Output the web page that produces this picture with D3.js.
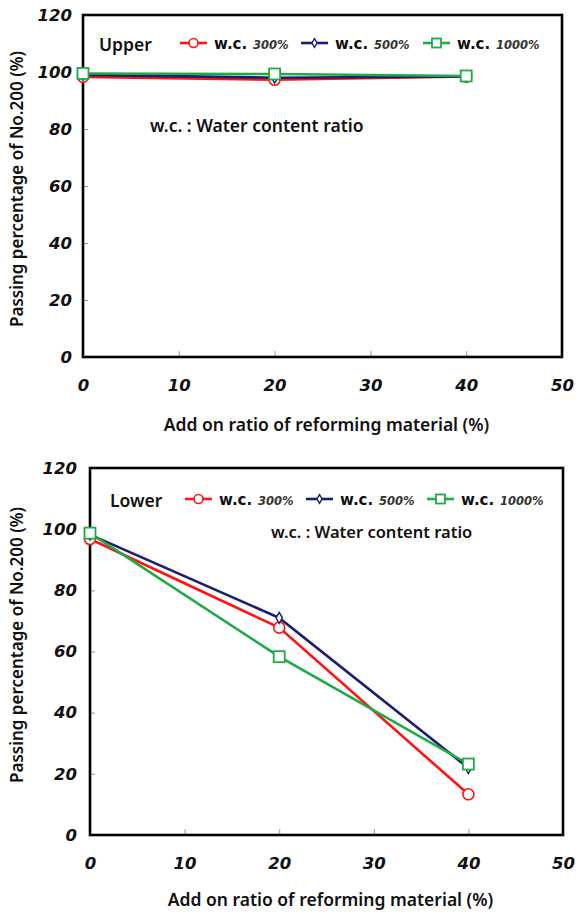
<!DOCTYPE html>
<html>
<head>
<meta charset="utf-8">
<script src="https://cdn.jsdelivr.net/npm/d3@7"></script>
<style>
  body { margin: 0; background: #fff; }
  svg text { font-family: "Noto Sans", sans-serif; fill: #111; }
  .tick text { font-family: "DejaVu Sans"; font-weight: bold; font-style: italic; font-size: 16.5px; fill: #111; }
  .tick line { stroke: #999; stroke-width: 1; }
  .axis .domain { display: none; }
  .title { font-weight: 600; font-size: 17.5px; }
  .ytitle { font-weight: 600; font-size: 17px; }
  .wc { font-family: "DejaVu Sans" !important; font-weight: bold; font-size: 15px; }
  .pct { font-family: "DejaVu Sans" !important; font-weight: bold; font-style: italic; font-size: 11.5px; fill: #333 !important; }
</style>
</head>
<body>
<div id="chart-area"></div>
<script>
// DATA

const addRatio = [0, 20, 40];
const xTicks = [0, 10, 20, 30, 40, 50];
const yTicks = [0, 20, 40, 60, 80, 100, 120];
const wcLabels = ["300%", "500%", "1000%"];
const colors = ["#ff1414", "#1b1f6b", "#1faa48"];

// Upper layer
const upper300 = [98.3, 97.3, 98.4];
const upper500 = [99.0, 98.0, 98.4];
const upper1000 = [99.5, 99.3, 98.6];

// Lower layer
const lower300 = [96.8, 67.8, 13.3];
const lower500 = [98.2, 71.0, 21.9];
const lower1000 = [98.7, 58.3, 23.2];

let svg = d3
  .select("#chart-area")
  .append("svg")
  .attr("width", 576)
  .attr("height", 913);

function marker(sel, i, size, color) {
  if (i === 0) {
    sel.append("circle").attr("r", size / 2)
      .attr("fill", "#fff").attr("stroke", color).attr("stroke-width", 1.6);
  } else if (i === 1) {
    sel.append("path").attr("d", d3.symbol(d3.symbolDiamond, size * 3.2)())
      .attr("fill", "#fff").attr("stroke", color).attr("stroke-width", 1.4);
  } else {
    sel.append("rect")
      .attr("x", -size / 2).attr("y", -size / 2)
      .attr("width", size).attr("height", size)
      .attr("fill", "#fff").attr("stroke", color).attr("stroke-width", 1.8);
  }
}

function drawPanel(p) {
  let x = d3.scaleLinear().domain([0, 50]).range([p.left, p.right]);
  let y = d3.scaleLinear().domain([0, 120]).range([p.bottom, p.top]);

  let g = svg.append("g");

  // AXES (ticks point inward)
  g.append("g")
    .attr("class", "axis")
    .attr("transform", "translate(0," + p.bottom + ")")
    .call(d3.axisBottom(x).tickValues(xTicks).tickSize(-6).tickPadding(p.xPad));

  g.append("g")
    .attr("class", "axis")
    .attr("transform", "translate(" + p.left + ",0)")
    .call(d3.axisLeft(y).tickValues(yTicks).tickSize(-5).tickPadding(p.yPad));

  // frame
  g.append("rect")
    .attr("x", p.left).attr("y", p.top)
    .attr("width", p.right - p.left).attr("height", p.bottom - p.top)
    .attr("fill", "none").attr("stroke", "#000").attr("stroke-width", 2.6);

  // axis titles
  g.append("text")
    .attr("class", "title")
    .attr("x", (p.left + p.right) / 2 + 4)
    .attr("y", p.xTitleY)
    .style("text-anchor", "middle")
    .text("Add on ratio of reforming material (%)");

  g.append("text")
    .attr("class", "ytitle")
    .attr("transform", "translate(23," + p.yTitleY + ") rotate(-90)")
    .style("text-anchor", "middle")
    .text("Passing percentage of No.200 (%)");

  // LINES
  let line = d3.line()
    .x(function(d, i) { return x(addRatio[i]); })
    .y(function(d) { return y(d); });

  p.series.forEach(function(vals, s) {
    g.append("path")
      .attr("d", line(vals))
      .attr("fill", "none")
      .attr("stroke", colors[s])
      .attr("stroke-width", 2.6);
  });
  p.series.forEach(function(vals, s) {
    vals.forEach(function(v, i) {
      let m = g.append("g").attr("transform", "translate(" + x(addRatio[i]) + "," + y(v) + ")");
      marker(m, s, 11, colors[s]);
    });
  });

  // LEGEND
  g.append("text")
    .attr("class", "title")
    .attr("x", p.nameX).attr("y", p.legY + 8)
    .text(p.name);

  p.legX.forEach(function(lx, s) {
    g.append("line")
      .attr("x1", lx).attr("x2", lx + 27)
      .attr("y1", p.legY).attr("y2", p.legY)
      .attr("stroke", colors[s]).attr("stroke-width", 2.6);
    let m = g.append("g").attr("transform", "translate(" + (lx + 13.5) + "," + p.legY + ")");
    marker(m, s, s === 1 ? 7 : 9, colors[s]);
    g.append("text").attr("class", "wc")
      .attr("x", lx + 34).attr("y", p.legY + 6)
      .text("w.c.");
    g.append("text").attr("class", "pct")
      .attr("x", lx + 73).attr("y", p.legY + 6)
      .text(wcLabels[s]);
  });

  g.append("text")
    .attr("class", "title")
    .attr("x", p.noteX).attr("y", p.noteY)
    .style("font-size", p.noteSize)
    .text("w.c. : Water content ratio");
}

drawPanel({
  left: 83, right: 562, top: 15, bottom: 357,
  xPad: 22, yPad: 11,
  xTitleY: 431, yTitleY: 189,
  name: "Upper", nameX: 99, legY: 43,
  legX: [180, 301, 423],
  noteX: 150, noteY: 132, noteSize: "17.5px",
  series: [upper300, upper500, upper1000]
});

drawPanel({
  left: 90, right: 563, top: 468, bottom: 835,
  xPad: 22, yPad: 13,
  xTitleY: 906, yTitleY: 645,
  name: "Lower", nameX: 110, legY: 499,
  legX: [185, 306, 427],
  noteX: 271, noteY: 538, noteSize: "16.5px",
  series: [lower300, lower500, lower1000]
});
</script>
</body>
</html>
